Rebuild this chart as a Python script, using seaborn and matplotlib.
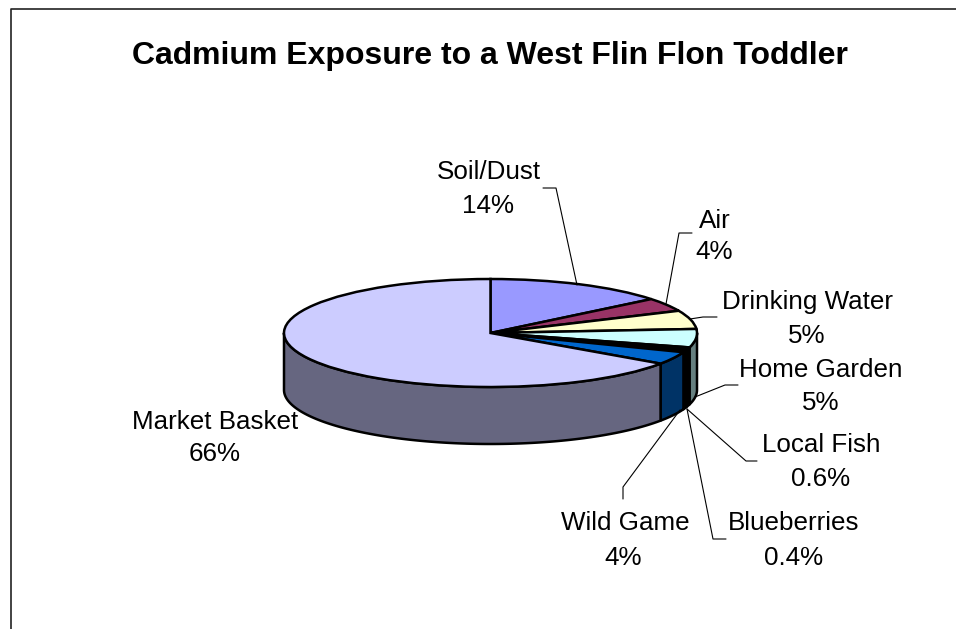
import matplotlib
matplotlib.use("Agg")
import matplotlib.pyplot as plt
import numpy as np
import seaborn as sns
from matplotlib.transforms import Affine2D

# ---- data ----
categories = ["Soil/Dust", "Air", "Drinking Water", "Home Garden",
              "Local Fish", "Blueberries", "Wild Game", "Market Basket"]
percent_labels = ["14%", "4%", "5%", "5%", "0.6%", "0.4%", "4%", "66%"]
# slice shares as they appear in the picture
shares = [14.2, 4.05, 5.55, 5.5, 0.8, 0.7, 3.8, 65.4]
top_colors = ["#9999FF", "#993366", "#FFFFCC", "#CCFFFF",
              "#000000", "#000000", "#0066CC", "#CCCCFF"]
side_colors = ["#4D4D80", "#4D1A33", "#808066", "#668080",
               "#000000", "#000000", "#003366", "#666680"]
title_text = "Cadmium Exposure to a West Flin Flon Toddler"

# ---- layout (reference pixels) ----
W, H = 956, 629
CX, CY, RX, RY, DEPTH = 490.5, 333.0, 206.5, 54.0, 57.0
label_xy = [(488.5, 172), (715, 221), (807, 302), (821, 370),
            (821, 445), (794, 523), (625, 523), (215, 422)]
value_xy = [(488, 206), (714, 252), (807, 336), (821, 403),
            (821, 479), (794, 558), (623, 558), (215, 454)]
leaders = [[(543, 188), (556, 188), (577, 285)],
           [(692, 233), (679, 233), (666, 304)],
           [(717, 317), (703, 317), (690, 319)],
           [(738, 385), (725, 385), (695, 397)],
           [(757, 461), (746, 461), (687, 409)],
           [(726, 539), (713, 539), (687, 409)],
           [(623, 499), (623, 487), (680, 410)]]

sns.set_theme(style="white")
plt.rcParams["font.family"] = ["Liberation Sans", "DejaVu Sans"]

fig = plt.figure(figsize=(W / 100, H / 100), dpi=100, facecolor="white")
ax = fig.add_axes([0, 0, 1, 1])

LW = 1.8
wedges, _ = ax.pie(shares, colors=top_colors, startangle=90, counterclock=False,
                   center=(0, 0), radius=1.0,
                   wedgeprops=dict(edgecolor="black", linewidth=LW, zorder=5))
ax.set_aspect("auto")
ax.set_xlim(-CX / RX, (W - CX) / RX)
ax.set_ylim(-(H - CY) / RY, CY / RY)
ax.axis("off")

# side wall of the disc: the front part (-180..0 degrees) of every wedge's rim
d = DEPTH / RY
for w, col in zip(wedges, side_colors):
    a, b = max(w.theta1, -180), min(w.theta2, 0)
    if b <= a:
        continue
    t = np.radians(np.linspace(a, b, 200))
    xs = np.r_[np.cos(t), np.cos(t[::-1])]
    ys = np.r_[np.sin(t), np.sin(t[::-1]) - d]
    ax.fill(xs, ys, facecolor=col, edgecolor="black", linewidth=LW, zorder=2,
            joinstyle="round")

# pixel coordinates with origin at top-left
px = Affine2D().scale(1, -1).translate(0, H)

for pts in leaders:
    xs, ys = zip(*pts)
    ax.plot(xs, ys, color="black", lw=0.8, transform=px, clip_on=False, zorder=6)

for name, pct, (lx, ly), (vx, vy) in zip(categories, percent_labels, label_xy, value_xy):
    ax.text(lx, ly, name, transform=px, ha="center", va="center", fontsize=18.7, color="black", zorder=7)
    ax.text(vx, vy, pct, transform=px, ha="center", va="center", fontsize=18.7, color="black", zorder=7)

ax.text(490, 56, title_text, transform=px, ha="center", va="center",
        fontsize=23, fontweight="bold", color="black")

# chart-area frame (left and top edges)
ax.plot([10.5, 10.5, 956], [629, 8.5, 8.5], color="#222222", lw=1.2,
        transform=px, clip_on=False, zorder=8)

fig.savefig("out.png", dpi=100)
